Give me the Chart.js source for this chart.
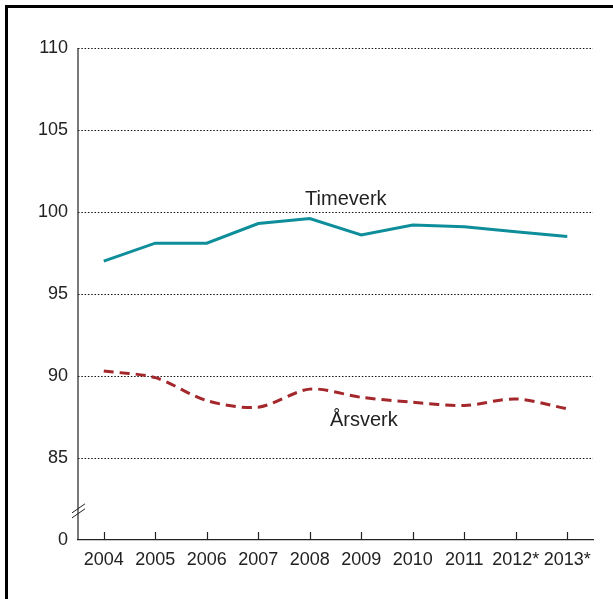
<!DOCTYPE html>
<html>
<head>
<meta charset="utf-8">
<script src="https://cdn.jsdelivr.net/npm/chart.js@4/dist/chart.umd.min.js"></script>
<style>
  html, body { margin: 0; padding: 0; background: #fff; }
  #wrap { width: 613px; height: 599px; position: relative; }
</style>
</head>
<body>
<div id="wrap"><canvas id="c" width="613" height="599"></canvas></div>
<script>
// Years on the horizontal axis
const years = ['2004', '2005', '2006', '2007', '2008', '2009', '2010', '2011', '2012*', '2013*'];
// Index values (2000 = 100)
const timeverk = [97.0, 98.1, 98.1, 99.3, 99.6, 98.6, 99.2, 99.1, 98.8, 98.5];
const aarsverk = [90.3, 89.9, 88.5, 88.1, 89.2, 88.7, 88.4, 88.2, 88.6, 88.0];
// Axis range; the bottom value is shown as 0 with a break mark
const yMin = 80, yMax = 110, yStep = 5;
// Series labels placed inside the plot (category index, value)
const seriesLabels = [
  { text: 'Timeverk', x: 4.70, y: 100.45 },
  { text: 'Årsverk', x: 5.05, y: 86.95 }
];

const FONT = '"Liberation Sans", Arial, sans-serif';

const decor = {
  id: 'decor',
  afterDraw(chart) {
    const ctx = chart.ctx;
    const xs = chart.scales.x, ys = chart.scales.y;
    const area = chart.chartArea;
    ctx.save();
    // outer frame (left and top)
    ctx.strokeStyle = '#000';
    ctx.lineWidth = 3;
    ctx.beginPath();
    ctx.moveTo(6.5, 599);
    ctx.lineTo(6.5, 6.5);
    ctx.lineTo(613, 6.5);
    ctx.stroke();

    // solid y axis line
    ctx.strokeStyle = '#222';
    ctx.lineWidth = 1.2;
    ctx.setLineDash([]);
    ctx.beginPath();
    ctx.moveTo(area.left, area.top);
    ctx.lineTo(area.left, area.bottom);
    ctx.stroke();

    // tick marks pointing up from the x axis
    ctx.beginPath();
    years.forEach((_, i) => {
      const px = Math.round(xs.getPixelForValue(i)) + 0.5;
      ctx.moveTo(px, area.bottom);
      ctx.lineTo(px, area.bottom - 8);
    });
    ctx.stroke();

    // axis break mark
    const bx = area.left;
    const by = ys.getPixelForValue(yMin + 1.9);
    ctx.lineWidth = 1;
    ctx.beginPath();
    ctx.moveTo(bx - 6, by + 4);
    ctx.lineTo(bx + 7, by - 5);
    ctx.moveTo(bx - 6, by + 9);
    ctx.lineTo(bx + 7, by);
    ctx.stroke();

    // series labels
    ctx.fillStyle = '#222';
    ctx.font = '20px ' + FONT;
    ctx.textAlign = 'center';
    ctx.textBaseline = 'alphabetic';
    seriesLabels.forEach(l => {
      ctx.fillText(l.text, xs.getPixelForValue(l.x), ys.getPixelForValue(l.y));
    });
    ctx.restore();
  }
};

new Chart(document.getElementById('c'), {
  type: 'line',
  data: {
    labels: years,
    datasets: [
      {
        label: 'Timeverk',
        data: timeverk,
        borderColor: '#0e8e9b',
        borderWidth: 3,
        pointRadius: 0,
        tension: 0,
        fill: false
      },
      {
        label: 'Årsverk',
        data: aarsverk,
        borderColor: '#a3272b',
        borderWidth: 3,
        borderDash: [10, 6],
        pointRadius: 0,
        tension: 0.3,
        fill: false
      }
    ]
  },
  options: {
    responsive: false,
    animation: false,
    events: [],
    layout: { padding: { left: 0, right: 20, top: 48, bottom: 0 } },
    plugins: { legend: { display: false }, tooltip: { enabled: false } },
    scales: {
      x: {
        type: 'category',
        offset: true,
        grid: { display: false, drawTicks: false },
        border: { display: true, color: '#222', width: 1.2 },
        ticks: {
          color: '#222',
          font: { family: FONT, size: 18 },
          padding: 9,
          maxRotation: 0,
          autoSkip: false
        },
        afterFit(s) { s.height = 59; }
      },
      y: {
        min: yMin,
        max: yMax,
        grid: {
          drawTicks: false,
          color: c => (c.tick && c.tick.value === yMin) ? 'rgba(0,0,0,0)' : '#111',
          lineWidth: 1
        },
        border: { display: false, dash: [1.5, 1.8] },
        ticks: {
          stepSize: yStep,
          color: '#222',
          font: { family: FONT, size: 18 },
          padding: 10,
          callback: v => (v === yMin ? '0' : String(v))
        },
        afterFit(s) { s.width = 78; }
      }
    }
  },
  plugins: [decor]
});
</script>
</body>
</html>
